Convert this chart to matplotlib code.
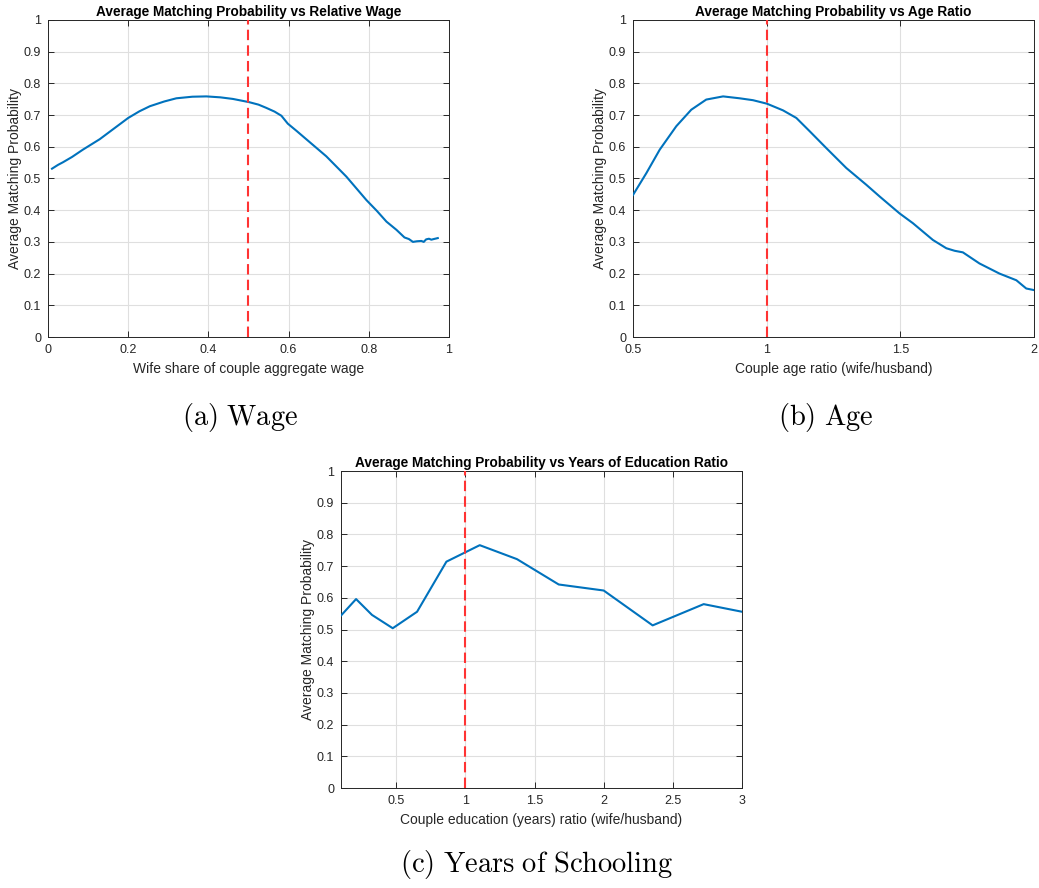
import matplotlib
matplotlib.use("Agg")
import matplotlib.pyplot as plt

# ---- data ----
wage_x = [0.01, 0.025, 0.037, 0.06, 0.087, 0.129, 0.165, 0.2, 0.228, 0.254, 0.29, 0.32, 0.36, 0.395,
          0.43, 0.461, 0.501, 0.525, 0.544, 0.565, 0.582, 0.598, 0.62, 0.644, 0.694, 0.744, 0.794, 0.82,
          0.844, 0.869, 0.889, 0.90, 0.910, 0.92, 0.931, 0.937, 0.943, 0.95, 0.956, 0.962, 0.972]
wage_y = [0.531, 0.543, 0.551, 0.568, 0.591, 0.624, 0.658, 0.691, 0.712, 0.728, 0.743, 0.753, 0.758, 0.759,
          0.756, 0.751, 0.741, 0.733, 0.723, 0.711, 0.698, 0.673, 0.650, 0.624, 0.570, 0.506, 0.432, 0.398,
          0.364, 0.338, 0.314, 0.309, 0.300, 0.302, 0.303, 0.300, 0.308, 0.310, 0.307, 0.309, 0.312]

age_x = [0.5, 0.55, 0.6, 0.662, 0.718, 0.774, 0.837, 0.899, 0.949, 1.001, 1.061, 1.111,
         1.161, 1.223, 1.298, 1.373, 1.423, 1.497, 1.547, 1.622, 1.672, 1.703, 1.734,
         1.796, 1.871, 1.934, 1.971, 2.0]
age_y = [0.448, 0.517, 0.591, 0.665, 0.717, 0.749, 0.759, 0.753, 0.747, 0.736, 0.715, 0.691,
         0.649, 0.596, 0.533, 0.480, 0.443, 0.390, 0.359, 0.306, 0.280, 0.272, 0.267,
         0.232, 0.200, 0.179, 0.153, 0.148]

edu_x = [0.101, 0.210, 0.325, 0.475, 0.651, 0.863, 1.104, 1.373, 1.675, 2.0, 2.354, 2.723, 3.0]
edu_y = [0.544, 0.596, 0.546, 0.504, 0.556, 0.714, 0.766, 0.722, 0.642, 0.623, 0.513, 0.580, 0.556]

titles = ["Average Matching Probability vs Relative Wage",
          "Average Matching Probability vs Age Ratio",
          "Average Matching Probability vs Years of Education Ratio"]
xlabels = ["Wife share of couple aggregate wage",
           "Couple age ratio (wife/husband)",
           "Couple education (years) ratio (wife/husband)"]
captions = ["(a) Wage", "(b) Age", "(c) Years of Schooling"]
ref_lines = [0.5, 1.0, 1.0]
xlims = [(0, 1), (0.5, 2), (0.101, 3)]
xticks = [[0, 0.2, 0.4, 0.6, 0.8, 1], [0.5, 1, 1.5, 2], [0.5, 1, 1.5, 2, 2.5, 3]]
xticklabels = [["0", "0.2", "0.4", "0.6", "0.8", "1"], ["0.5", "1", "1.5", "2"],
               ["0.5", "1", "1.5", "2", "2.5", "3"]]
yticks = [0, 0.1, 0.2, 0.3, 0.4, 0.5, 0.6, 0.7, 0.8, 0.9, 1]
yticklabels = ["0", "0.1", "0.2", "0.3", "0.4", "0.5", "0.6", "0.7", "0.8", "0.9", "1"]

plt.rcParams['font.family'] = ['Liberation Sans', 'DejaVu Sans']
plt.rcParams['mathtext.fontset'] = 'cm'

W, H = 1039, 888
fig = plt.figure(figsize=(W / 100, H / 100), dpi=100)

def px_axes(l, t, r, b):
    return fig.add_axes([l / W, 1 - b / H, (r - l) / W, (b - t) / H])

axes = [px_axes(48, 20, 449, 337), px_axes(633, 20, 1034, 337), px_axes(341, 471, 742, 788)]
data = [(wage_x, wage_y), (age_x, age_y), (edu_x, edu_y)]
dark = '#262626'

for i, ax in enumerate(axes):
    x, y = data[i]
    ax.plot(x, y, color='#0072BD', lw=1.5, zorder=3)
    ax.axvline(ref_lines[i], color='#FF3333', lw=1.5, ls=(0, (5, 2.5)), zorder=4)
    ax.set_xlim(*xlims[i])
    ax.set_ylim(0, 1)
    ax.set_xticks(xticks[i])
    ax.set_xticklabels(xticklabels[i])
    ax.set_yticks(yticks)
    ax.set_yticklabels(yticklabels)
    ax.grid(True, color='#DFDFDF', lw=0.8)
    ax.set_axisbelow(True)
    ax.tick_params(direction='in', top=True, right=True, length=4, width=0.7,
                   colors=dark, labelsize=9, pad=5)
    for s in ax.spines.values():
        s.set_color(dark)
        s.set_linewidth(0.7)
    ax.set_title(titles[i], fontsize=9.8, fontweight='bold', color='black', pad=3)
    ax.set_xlabel(xlabels[i], fontsize=10, color=dark, labelpad=4)
    ax.set_ylabel("Average Matching Probability", fontsize=10, color=dark, labelpad=1)

cap_pos = [(240, 418), (826, 418), (537, 864)]
for (cx, cy), cap in zip(cap_pos, captions):
    txt = cap.replace(" ", r"\ ")
    fig.text(cx / W, 1 - cy / H, r"$\mathrm{" + txt + "}$", ha='center', va='center',
             fontsize=20.5, color='black')

fig.savefig("out.png", dpi=100)
